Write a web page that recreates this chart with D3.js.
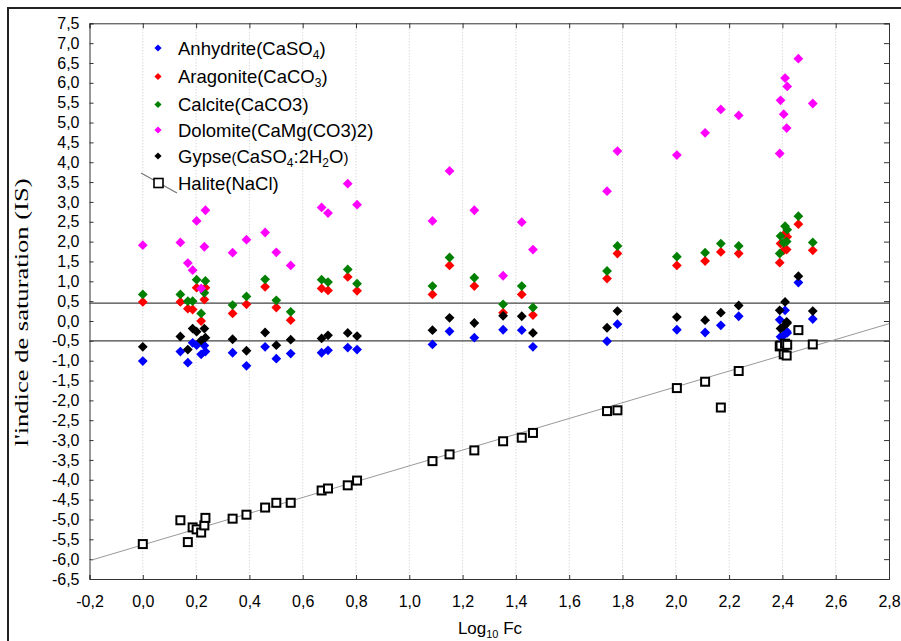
<!DOCTYPE html>
<html>
<head>
<meta charset="utf-8">
<script src="https://cdn.jsdelivr.net/npm/d3@7"></script>
<style>
  body { margin: 0; background: #fff; }
  svg { display: block; font-family: "Liberation Sans", Arial, sans-serif; }
</style>
</head>
<body>
<script>
// samples (x = log10 Fc)
const logFc = [0.000, 0.141, 0.169, 0.187, 0.202, 0.219, 0.231, 0.235, 0.337, 0.389,
               0.459, 0.501, 0.555, 0.671, 0.695, 0.769, 0.804, 1.087, 1.151, 1.244,
               1.352, 1.422, 1.464, 1.742, 1.781, 2.004, 2.110, 2.169, 2.236, 2.390,
               2.393, 2.405, 2.410, 2.416, 2.418, 2.460, 2.514];
const anhydrite = [-1.01, -0.77, -1.05, -0.55, -0.61, -0.84, -0.62, -0.77, -0.80, -1.13,
                   -0.65, -0.95, -0.82, -0.80, -0.74, -0.67, -0.72, -0.59, -0.26, -0.42,
                   -0.22, -0.23, -0.65, -0.51, -0.08, -0.22, -0.29, -0.11, 0.12, 0.03,
                   -0.40, -0.36, 0.27, -0.26, -0.30, 0.97, 0.05];
const aragonite = [0.48, 0.48, 0.31, 0.29, 0.84, 0.00, 0.54, 0.84, 0.19, 0.42,
                   0.86, 0.34, 0.02, 0.82, 0.77, 1.11, 0.76, 0.67, 1.40, 0.88,
                   0.21, 0.67, 0.15, 1.07, 1.70, 1.40, 1.51, 1.74, 1.70, 1.47,
                   1.95, 1.78, 2.20, 1.80, 2.12, 2.44, 1.78];
const calcite = [0.67, 0.67, 0.50, 0.50, 1.04, 0.19, 0.71, 1.01, 0.40, 0.62,
                 1.05, 0.52, 0.23, 1.04, 0.98, 1.30, 0.94, 0.88, 1.60, 1.09,
                 0.42, 0.88, 0.34, 1.26, 1.89, 1.62, 1.72, 1.95, 1.89, 1.70,
                 2.14, 1.97, 2.39, 2.00, 2.30, 2.64, 1.98];
const dolomite = [1.91, 1.98, 1.46, 1.28, 2.52, 0.82, 1.87, 2.79, 1.72, 2.05,
                  2.23, 1.73, 1.40, 2.86, 2.72, 3.46, 2.93, 2.52, 3.78, 2.79,
                  1.14, 2.49, 1.80, 3.27, 4.28, 4.18, 4.74, 5.33, 5.18, 4.22,
                  5.56, 5.21, 6.12, 4.86, 5.91, 6.61, 5.48];
const gypse = [-0.65, -0.39, -0.72, -0.19, -0.27, -0.49, -0.19, -0.42, -0.46, -0.75,
               -0.29, -0.61, -0.47, -0.44, -0.36, -0.30, -0.38, -0.23, 0.08, -0.05,
               0.13, 0.12, -0.30, -0.17, 0.25, 0.10, 0.02, 0.21, 0.39, 0.27,
               -0.19, -0.13, 0.48, -0.02, -0.05, 1.13, 0.25];
const halite = [-5.62, -5.02, -5.57, -5.20, -5.25, -5.33, -5.15, -4.96, -4.98, -4.88,
                -4.70, -4.58, -4.58, -4.27, -4.22, -4.14, -4.02, -3.53, -3.36, -3.26,
                -3.03, -2.94, -2.82, -2.27, -2.25, -1.69, -1.53, -2.18, -1.26, -0.64,
                -0.62, -0.84, -0.57, -0.87, -0.60, -0.23, -0.59];

const haliteTrend = [1.99, -5.64];     // slope, intercept
const refLines = [0.45, -0.5];

const xTickValues = [-0.2, 0.0, 0.2, 0.4, 0.6, 0.8, 1.0, 1.2, 1.4, 1.6, 1.8, 2.0, 2.2, 2.4, 2.6, 2.8];
const yTickValues = [-6.5, -6.0, -5.5, -5.0, -4.5, -4.0, -3.5, -3.0, -2.5, -2.0, -1.5, -1.0, -0.5,
                     0.0, 0.5, 1.0, 1.5, 2.0, 2.5, 3.0, 3.5, 4.0, 4.5, 5.0, 5.5, 6.0, 6.5, 7.0, 7.5];

const width = 901, height = 641;
const plotLeft = 89.5, plotRight = 889, plotTop = 23.3, plotBottom = 579;

const svg = d3.select("body").append("svg")
    .attr("width", width)
    .attr("height", height);

// outer frame
svg.append("rect")
    .attr("x", 8).attr("y", 8)
    .attr("width", 910).attr("height", 660)
    .attr("fill", "none")
    .attr("stroke", "#222")
    .attr("stroke-width", 2);

const x = d3.scaleLinear().domain([-0.2, 2.8]).range([plotLeft, plotRight]);
const y = d3.scaleLinear().domain([-6.5, 7.5]).range([plotBottom, plotTop]);

const fmt = d => d3.format(".1f")(d).replace(".", ",").replace("−", "-");

// vertical dotted grid
svg.append("g")
    .selectAll("line")
    .data(xTickValues.slice(1, -1))
    .enter().append("line")
    .attr("x1", d => x(d)).attr("x2", d => x(d))
    .attr("y1", plotTop).attr("y2", plotBottom)
    .attr("stroke", "#c8c8c8")
    .attr("stroke-dasharray", "1,2");

// axes
const xAxis = svg.append("g")
    .attr("transform", `translate(0,${plotBottom})`)
    .call(d3.axisBottom(x).tickValues(xTickValues).tickFormat(fmt).tickSize(-4).tickPadding(17));
const xTop = svg.append("g")
    .attr("transform", `translate(0,${plotTop})`)
    .call(d3.axisTop(x).tickValues(xTickValues).tickFormat("").tickSize(-5));
const yAxis = svg.append("g")
    .attr("transform", `translate(${plotLeft},0)`)
    .call(d3.axisLeft(y).tickValues(yTickValues).tickFormat(fmt).tickSize(-4).tickPadding(10));
const yRight = svg.append("g")
    .attr("transform", `translate(${plotRight},0)`)
    .call(d3.axisRight(y).tickValues(yTickValues).tickFormat("").tickSize(-5));

[xAxis, xTop, yAxis, yRight].forEach(g => {
    g.select(".domain").attr("stroke", "#333");
    g.selectAll(".tick line").attr("stroke", "#333");
    g.selectAll("text")
        .attr("fill", "#000")
        .style("font-size", "16px")
        .style("font-family", "'Liberation Sans', Arial, sans-serif");
});

// reference lines
svg.append("g")
    .selectAll("line")
    .data(refLines)
    .enter().append("line")
    .attr("x1", plotLeft).attr("x2", plotRight)
    .attr("y1", d => y(d)).attr("y2", d => y(d))
    .attr("stroke", "#444")
    .attr("stroke-width", 1.2);

// halite trend line
svg.append("line")
    .attr("x1", x(-0.2)).attr("y1", y(haliteTrend[0] * -0.2 + haliteTrend[1]))
    .attr("x2", x(2.8)).attr("y2", y(haliteTrend[0] * 2.8 + haliteTrend[1]))
    .attr("stroke", "#999")
    .attr("stroke-width", 1);

const diamond = r => `M0,${-r}L${r},0L0,${r}L${-r},0Z`;

const series = [
    { values: anhydrite, color: "#0000ff" },
    { values: aragonite, color: "#ff0000" },
    { values: calcite, color: "#008000" },
    { values: dolomite, color: "#ff00ff" },
    { values: gypse, color: "#000000" }
];

series.forEach(s => {
    svg.append("g")
        .selectAll("path")
        .data(s.values)
        .enter().append("path")
        .attr("d", diamond(4.9))
        .attr("transform", (d, i) => `translate(${x(logFc[i])},${y(d)})`)
        .attr("fill", s.color);
});

svg.append("g")
    .selectAll("rect")
    .data(halite)
    .enter().append("rect")
    .attr("x", (d, i) => x(logFc[i]) - 4)
    .attr("y", d => y(d) - 4)
    .attr("width", 8).attr("height", 8)
    .attr("fill", "#fff")
    .attr("stroke", "#000")
    .attr("stroke-width", 2);

// legend: parts are [text, kind] where kind 1 = subscript, 2 = small
const legendItems = [
    { parts: [["Anhydrite(CaSO", 0], ["4", 1], [")", 0]], color: "#0000ff", y: 48 },
    { parts: [["Aragonite(CaCO", 0], ["3", 1], [")", 0]], color: "#ff0000", y: 76.5 },
    { parts: [["Calcite(CaCO3)", 0]], color: "#008000", y: 104.5 },
    { parts: [["Dolomite(CaMg(CO3)2)", 0]], color: "#ff00ff", y: 130 },
    { parts: [["Gypse", 0], ["(", 2], ["CaSO", 0], ["4", 1], [":2H", 0], ["2", 1], ["O", 0], [")", 2]], color: "#000", y: 156 },
    { parts: [["Halite(NaCl)", 0]], color: null, y: 183 }
];

const legend = svg.append("g");
legendItems.forEach(item => {
    if (item.color) {
        legend.append("path")
            .attr("d", diamond(3.6))
            .attr("transform", `translate(158,${item.y})`)
            .attr("fill", item.color);
    } else {
        legend.append("line")
            .attr("x1", 141).attr("y1", 173)
            .attr("x2", 177).attr("y2", 193)
            .attr("stroke", "#777")
            .attr("stroke-width", 1.2);
        legend.append("rect")
            .attr("x", 154).attr("y", item.y - 4.5)
            .attr("width", 9).attr("height", 9)
            .attr("fill", "#fff")
            .attr("stroke", "#000")
            .attr("stroke-width", 1.6);
    }
    const t = legend.append("text")
        .attr("x", 178)
        .attr("y", item.y + 6.5)
        .style("font-size", "18.5px")
        .attr("fill", "#000");
    let shifted = false;
    item.parts.forEach(p => {
        const ts = t.append("tspan").text(p[0]);
        if (p[1] === 1) {
            ts.style("font-size", "12px").attr("dy", 4);
            shifted = true;
        } else {
            if (shifted) { ts.attr("dy", -4); shifted = false; }
            if (p[1] === 2) ts.style("font-size", "15px");
        }
    });
});

// axis titles
svg.append("text")
    .attr("transform", `translate(28,${(178 + 447) / 2}) rotate(-90)`)
    .attr("text-anchor", "middle")
    .attr("textLength", 268)
    .attr("lengthAdjust", "spacingAndGlyphs")
    .style("font-family", "'Liberation Serif', 'Times New Roman', serif")
    .style("font-size", "18px")
    .text("l'indice de saturation (IS)");

const xt = svg.append("text")
    .attr("x", 490)
    .attr("y", 634)
    .attr("text-anchor", "middle")
    .style("font-size", "17px");
xt.append("tspan").text("Log");
xt.append("tspan").text("10").style("font-size", "11px").attr("dy", 4);
xt.append("tspan").text(" Fc").attr("dy", -4);
</script>
</body>
</html>
